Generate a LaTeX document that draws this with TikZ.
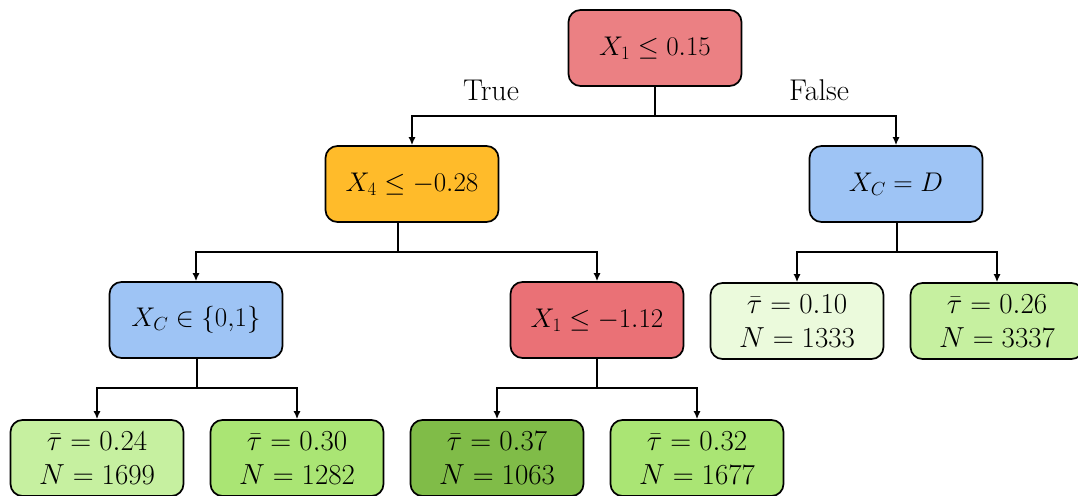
\RequirePackage{fix-cm}
\documentclass[tikz,border=0pt]{standalone}
\usetikzlibrary{arrows.meta}
\definecolor{cRoot}{RGB}{235,128,131}
\definecolor{cOrange}{RGB}{255,187,42}
\definecolor{cBlue}{RGB}{158,196,245}
\definecolor{cRed}{RGB}{234,113,118}
\definecolor{gA}{RGB}{235,250,220}
\definecolor{gB}{RGB}{198,240,160}
\definecolor{gC}{RGB}{170,229,116}
\definecolor{gD}{RGB}{128,188,72}
\tikzset{
  box/.style={draw=black, line width=1.7pt, rounded corners=12pt, minimum width=173pt, minimum height=76pt, align=center, font=\fontsize{27}{32}\selectfont, inner sep=0pt},
  leaf/.style={box, font=\fontsize{29}{34}\selectfont},
  conn/.style={line width=1.4pt},
  arr/.style={conn, -{Latex[length=8pt,width=7pt]}},
  lbl/.style={font=\fontsize{30}{34}\selectfont, inner sep=0pt}
}
\begin{document}
\begin{tikzpicture}[x=1pt,y=-1pt]
\useasboundingbox (0,0) rectangle (1078,495);
\node[box, fill=cRoot] (root) at (655,48) {$X_1 \leq 0.15$};
\node[box, fill=cOrange] (x4) at (412,184) {$X_4 \leq -0.28$};
\node[box, fill=cBlue] (xcd) at (896,184) {$X_C = D$};
\node[box, fill=cBlue] (xc01) at (196,320) {$X_C \in \{0{,}1\}$};
\node[box, fill=cRed] (x1b) at (597,320) {$X_1 \leq -1.12$};
\node[leaf, fill=gA] (l10) at (797,321) {$\bar\tau = 0.10$\\$N = 1333$};
\node[leaf, fill=gB] (l26) at (997,321) {$\bar\tau = 0.26$\\$N = 3337$};
\node[leaf, fill=gB] (l24) at (97,458) {$\bar\tau = 0.24$\\$N = 1699$};
\node[leaf, fill=gC] (l30) at (297,458) {$\bar\tau = 0.30$\\$N = 1282$};
\node[leaf, fill=gD] (l37) at (497,458) {$\bar\tau = 0.37$\\$N = 1063$};
\node[leaf, fill=gC] (l32) at (697,458) {$\bar\tau = 0.32$\\$N = 1677$};
\node[lbl] (ltrue) at (491,90) {True};
\node[lbl] (lfalse) at (819,90) {False};
\coordinate (j1) at (655,116);
\coordinate (j2) at (398,252);
\coordinate (j3) at (897,252);
\coordinate (j4) at (197,388);
\coordinate (j5) at (597,388);
\draw[conn] (root) -- (j1);
\draw[arr] (j1) -| (x4);
\draw[arr] (j1) -| (xcd);
\draw[conn] (j2 |- x4.south) -- (j2);
\draw[arr] (j2) -| (xc01);
\draw[arr] (j2) -| (x1b);
\draw[conn] (j3 |- xcd.south) -- (j3);
\draw[arr] (j3) -| (l10);
\draw[arr] (j3) -| (l26);
\draw[conn] (j4 |- xc01.south) -- (j4);
\draw[arr] (j4) -| (l24);
\draw[arr] (j4) -| (l30);
\draw[conn] (j5 |- x1b.south) -- (j5);
\draw[arr] (j5) -| (l37);
\draw[arr] (j5) -| (l32);
\end{tikzpicture}
\end{document}
